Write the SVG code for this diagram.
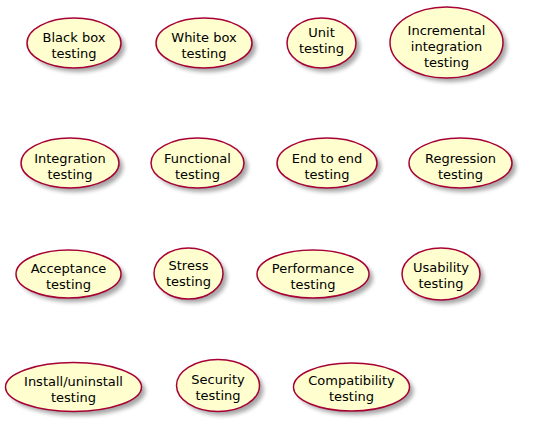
<svg xmlns="http://www.w3.org/2000/svg" width="558" height="422" viewBox="0 0 558 422">
<defs>
<filter id="sh" x="-20%" y="-20%" width="150%" height="160%">
<feGaussianBlur stdDeviation="2"/>
</filter>
</defs>
<style>
.s{fill:#000;opacity:0.35;filter:url(#sh)}
.e{fill:#FEFECE;stroke:#A80036;stroke-width:1.5}
text{font-family:"DejaVu Sans",sans-serif;font-size:13px;fill:#000;text-anchor:middle}
</style>
<rect width="558" height="422" fill="#fff"/>
<g id="connectors"/>
<g id="blackbox">
<ellipse class="s" cx="78" cy="47" rx="47" ry="25"/><ellipse class="e" cx="74" cy="43" rx="47" ry="25"/>
<text x="74" y="42">Black box</text><text x="74" y="58">testing</text></g>
<g id="whitebox">
<ellipse class="s" cx="208" cy="47" rx="48" ry="25"/><ellipse class="e" cx="204" cy="43" rx="48" ry="25"/>
<text x="204" y="42">White box</text><text x="204" y="58">testing</text></g>
<g id="unit">
<ellipse class="s" cx="325.5" cy="47" rx="34.5" ry="25"/><ellipse class="e" cx="321.5" cy="43" rx="34.5" ry="25"/>
<text x="321.5" y="37">Unit</text><text x="321.5" y="53">testing</text></g>
<g id="incremental">
<ellipse class="s" cx="450.5" cy="46.5" rx="56.5" ry="35.5"/><ellipse class="e" cx="446.5" cy="42.5" rx="56.5" ry="35.5"/>
<text x="446.5" y="35">Incremental</text><text x="446.5" y="51">integration</text><text x="446.5" y="67">testing</text></g>
<g id="integration">
<ellipse class="s" cx="74" cy="167" rx="49" ry="25"/><ellipse class="e" cx="70" cy="163" rx="49" ry="25"/>
<text x="70" y="163">Integration</text><text x="70" y="179">testing</text></g>
<g id="functional">
<ellipse class="s" cx="201.5" cy="167" rx="46.5" ry="25"/><ellipse class="e" cx="197.5" cy="163" rx="46.5" ry="25"/>
<text x="197.5" y="163">Functional</text><text x="197.5" y="179">testing</text></g>
<g id="endtoend">
<ellipse class="s" cx="331" cy="167" rx="50" ry="25"/><ellipse class="e" cx="327" cy="163" rx="50" ry="25"/>
<text x="327" y="163">End to end</text><text x="327" y="179">testing</text></g>
<g id="regression">
<ellipse class="s" cx="464.5" cy="167" rx="51.5" ry="25"/><ellipse class="e" cx="460.5" cy="163" rx="51.5" ry="25"/>
<text x="460.5" y="163">Regression</text><text x="460.5" y="179">testing</text></g>
<g id="acceptance">
<ellipse class="s" cx="72.5" cy="278" rx="52.5" ry="24"/><ellipse class="e" cx="68.5" cy="274" rx="52.5" ry="24"/>
<text x="68.5" y="273">Acceptance</text><text x="68.5" y="289">testing</text></g>
<g id="stress">
<ellipse class="s" cx="192.5" cy="277.5" rx="34.5" ry="25.5"/><ellipse class="e" cx="188.5" cy="273.5" rx="34.5" ry="25.5"/>
<text x="188.5" y="270">Stress</text><text x="188.5" y="286">testing</text></g>
<g id="performance">
<ellipse class="s" cx="317" cy="278" rx="56" ry="24"/><ellipse class="e" cx="313" cy="274" rx="56" ry="24"/>
<text x="313" y="273">Performance</text><text x="313" y="289">testing</text></g>
<g id="usability">
<ellipse class="s" cx="445" cy="278" rx="39" ry="26"/><ellipse class="e" cx="441" cy="274" rx="39" ry="26"/>
<text x="441" y="272">Usability</text><text x="441" y="288">testing</text></g>
<g id="install">
<ellipse class="s" cx="77.5" cy="391" rx="68" ry="24.5"/><ellipse class="e" cx="73.5" cy="387" rx="68" ry="24.5"/>
<text x="73.5" y="386">Install/uninstall</text><text x="73.5" y="402">testing</text></g>
<g id="security">
<ellipse class="s" cx="222" cy="389.5" rx="41.5" ry="26"/><ellipse class="e" cx="218" cy="385.5" rx="41.5" ry="26"/>
<text x="218" y="383.5">Security</text><text x="218" y="399.5">testing</text></g>
<g id="compatibility">
<ellipse class="s" cx="355.5" cy="391" rx="58" ry="24"/><ellipse class="e" cx="351.5" cy="387" rx="58" ry="24"/>
<text x="351.5" y="385">Compatibility</text><text x="351.5" y="401">testing</text></g>
</svg>
